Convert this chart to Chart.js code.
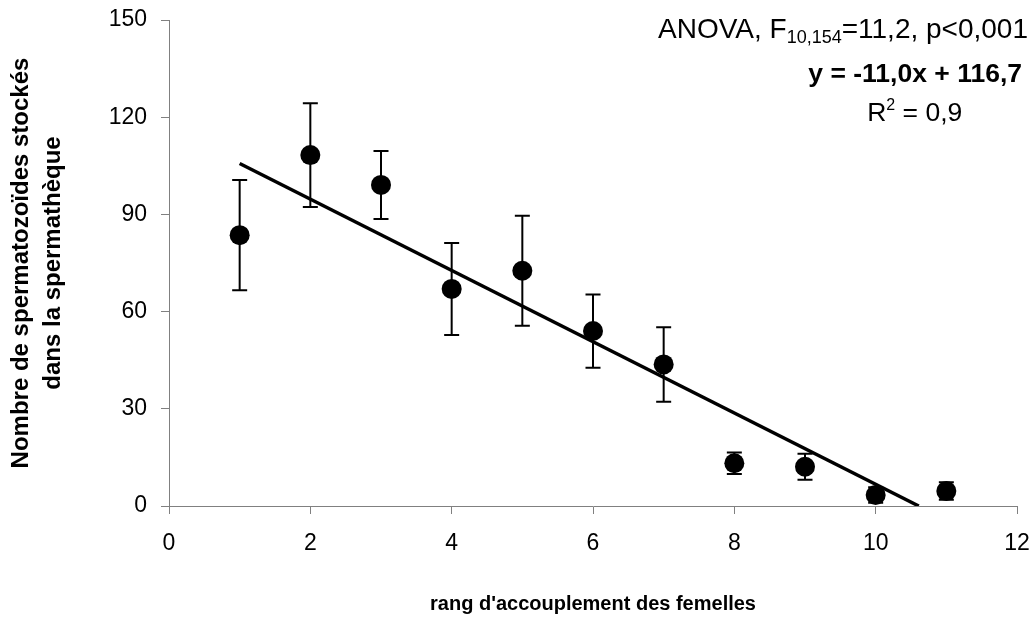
<!DOCTYPE html>
<html>
<head>
<meta charset="utf-8">
<script src="https://cdn.jsdelivr.net/npm/chart.js@4.4.1/dist/chart.umd.min.js"></script>
<style>
  html, body { margin: 0; padding: 0; background: #ffffff; }
  #wrap { width: 1034px; height: 619px; }
</style>
</head>
<body>
<div id="wrap"><canvas id="c" width="1034" height="619"></canvas></div>
<script>
// ---- data ----
const ranks = [1, 2, 3, 4, 5, 6, 7, 8, 9, 10, 11];
const means = [83.6, 108.3, 99.1, 67.0, 72.6, 54.0, 43.7, 13.2, 12.1, 3.4, 4.6];
const errors = [17.0, 16.0, 10.5, 14.2, 17.0, 11.3, 11.5, 3.3, 4.0, 2.4, 2.7];
const trendX = [1, 10.61];
const trendY = [105.7, 0];
const xTicks = [0, 2, 4, 6, 8, 10, 12];
const yTicks = [0, 30, 60, 90, 120, 150];
const yTitle = ['Nombre de spermatozoïdes stockés', 'dans la spermathèque'];
const xTitle = "rang d'accouplement des femelles";
const anovaMain = 'ANOVA, F';
const anovaSub = '10,154';
const anovaRest = '=11,2, p<0,001';
const eqText = 'y = -11,0x + 116,7';
const r2Main = 'R';
const r2Sup = '2';
const r2Rest = ' = 0,9';

const FONT = '"Liberation Sans", Arial, sans-serif';
const AXIS_GREY = '#808080';

const errorBars = {
  id: 'errorBars',
  beforeDatasetsDraw(chart) {
    const { ctx, scales: { x, y } } = chart;
    ctx.save();
    ctx.strokeStyle = '#000';
    ctx.lineWidth = 2;
    const half = 7.5;
    ranks.forEach((r, i) => {
      const px = x.getPixelForValue(r);
      const top = y.getPixelForValue(means[i] + errors[i]);
      const bot = y.getPixelForValue(Math.max(0, means[i] - errors[i]));
      ctx.beginPath();
      ctx.moveTo(px, top); ctx.lineTo(px, bot);
      ctx.moveTo(px - half, top); ctx.lineTo(px + half, top);
      ctx.moveTo(px - half, bot); ctx.lineTo(px + half, bot);
      ctx.stroke();
    });
    ctx.restore();
  }
};

const annotations = {
  id: 'annotations',
  afterDraw(chart) {
    const ctx = chart.ctx;
    ctx.save();
    ctx.fillStyle = '#000';
    ctx.textBaseline = 'alphabetic';
    // ANOVA line (right aligned)
    const mainFont = '28px ' + FONT;
    const subFont = '18px ' + FONT;
    ctx.font = mainFont; const w1 = ctx.measureText(anovaMain).width;
    const w3 = ctx.measureText(anovaRest).width;
    ctx.font = subFont; const w2 = ctx.measureText(anovaSub).width;
    const right = 1028;
    let xs = right - (w1 + w2 + w3);
    const base1 = 38;
    ctx.textAlign = 'left';
    ctx.font = mainFont; ctx.fillText(anovaMain, xs, base1);
    ctx.font = subFont; ctx.fillText(anovaSub, xs + w1, base1 + 5);
    ctx.font = mainFont; ctx.fillText(anovaRest, xs + w1 + w2, base1);
    // equation
    ctx.font = 'bold 26.5px ' + FONT;
    ctx.textAlign = 'right';
    ctx.fillText(eqText, 1022, 82);
    // R^2
    ctx.textAlign = 'left';
    const rf = '26.5px ' + FONT, sf = '16px ' + FONT;
    ctx.font = rf; const rw = ctx.measureText(r2Main).width; const rw3 = ctx.measureText(r2Rest).width;
    ctx.font = sf; const rw2 = ctx.measureText(r2Sup).width;
    const rx = 914.7 - (rw + rw2 + rw3) / 2;
    ctx.font = rf; ctx.fillText(r2Main, rx, 121);
    ctx.font = sf; ctx.fillText(r2Sup, rx + rw, 110);
    ctx.font = rf; ctx.fillText(r2Rest, rx + rw + rw2, 121);
    ctx.restore();
  }
};

function noPad(scale) {
  scale.paddingTop = 0; scale.paddingBottom = 0;
  scale.paddingLeft = 0; scale.paddingRight = 0;
}

new Chart(document.getElementById('c'), {
  type: 'scatter',
  data: {
    datasets: [
      {
        label: 'moyenne',
        data: ranks.map((r, i) => ({ x: r, y: means[i] })),
        pointRadius: 10,
        pointHoverRadius: 10,
        pointBackgroundColor: '#000',
        pointBorderColor: '#000',
        pointBorderWidth: 0,
        showLine: false
      },
      {
        label: 'régression',
        data: trendX.map((v, i) => ({ x: v, y: trendY[i] })),
        showLine: true,
        borderColor: '#000',
        borderWidth: 3.5,
        pointRadius: 0,
        pointHoverRadius: 0,
        fill: false
      }
    ]
  },
  options: {
    responsive: false,
    animation: false,
    events: [],
    layout: { autoPadding: false, padding: { left: 0, right: 17, top: 20, bottom: 0 } },
    plugins: { legend: { display: false }, tooltip: { enabled: false } },
    scales: {
      x: {
        type: 'linear',
        min: 0, max: 12,
        afterBuildTicks(scale) { scale.ticks = xTicks.map(v => ({ value: v })); },
        afterFit(scale) { scale.height = 113; noPad(scale); },
        grid: { drawOnChartArea: false, drawTicks: true, tickLength: 8, color: AXIS_GREY, lineWidth: 1 },
        border: { display: true, color: AXIS_GREY, width: 1 },
        ticks: { color: '#000', font: { family: FONT, size: 23 }, padding: 16, maxRotation: 0 },
        title: {
          display: true, text: xTitle, color: '#000',
          font: { family: FONT, size: 20, weight: 'bold' },
          padding: { top: 0, bottom: 3 }
        }
      },
      y: {
        type: 'linear',
        min: 0, max: 150,
        afterBuildTicks(scale) { scale.ticks = yTicks.map(v => ({ value: v })); },
        afterFit(scale) { scale.width = 169; noPad(scale); },
        grid: { drawOnChartArea: false, drawTicks: true, tickLength: 8, color: AXIS_GREY, lineWidth: 1 },
        border: { display: true, color: AXIS_GREY, width: 1 },
        ticks: { color: '#000', font: { family: FONT, size: 23 }, padding: 14 },
        title: {
          display: true, text: yTitle, color: '#000',
          font: { family: FONT, size: 24, weight: 'bold', lineHeight: 1.35 },
          padding: { top: 5, bottom: 0 }
        }
      }
    }
  },
  plugins: [errorBars, annotations]
});
</script>
</body>
</html>
